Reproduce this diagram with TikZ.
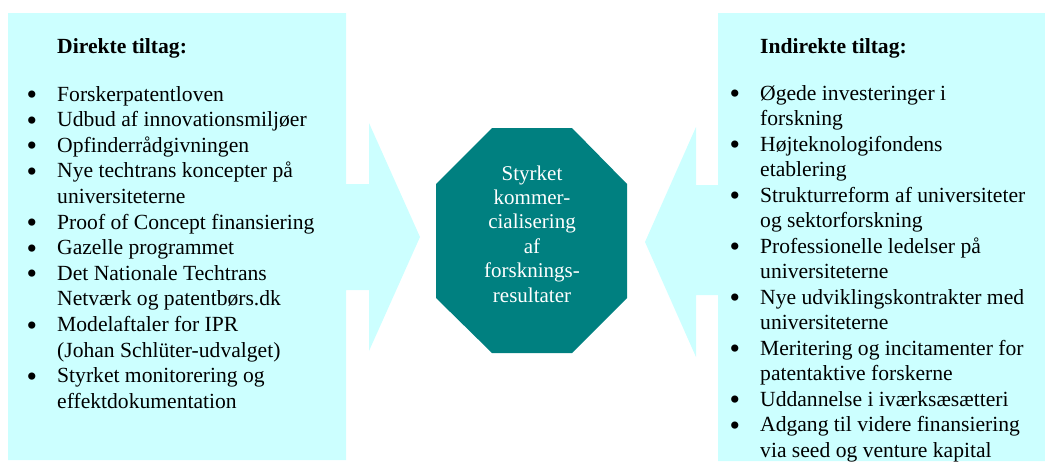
\documentclass[tikz,border=0pt]{standalone}
\usepackage{fontspec}
\setmainfont{Liberation Serif}
\definecolor{lightcyan}{HTML}{CCFFFF}
\definecolor{tealc}{HTML}{008080}
\newcommand{\bigbul}{\hspace{-1.5pt}\smash{\raisebox{-3.6pt}{\fontsize{30}{0}\selectfont\textbullet}}}
\newcommand{\itm}[1]{\hangindent=29pt\hangafter=1\noindent\makebox[29pt][l]{\bigbul}#1\par}
\tikzset{
  panel/.style={fill=lightcyan, draw=none},
  octa/.style={fill=tealc, draw=none},
  listtext/.style={anchor=base west, inner sep=0pt, font=\fontsize{21.6}{25.6}\selectfont},
  headtext/.style={anchor=base west, inner sep=0pt, font=\fontsize{21.6}{25.6}\selectfont\bfseries},
  centertext/.style={anchor=base, inner sep=0pt, text=white, font=\fontsize{21}{24.4}\selectfont}
}
\begin{document}
\begin{tikzpicture}[x=1pt,y=-1pt]
\useasboundingbox (0,0) rectangle (1045,461);
% left arrow panel
\fill[panel] (8,13) -- (346,13) -- (346,184) -- (369,184) -- (369,123) -- (420,237)
  -- (369,351) -- (369,290) -- (346,290) -- (346,460) -- (8,460) -- cycle;
% right arrow panel
\fill[panel] (1045,13) -- (718,13) -- (718,185) -- (696,185) -- (696,127) -- (645,242)
  -- (696,357) -- (696,295) -- (718,295) -- (718,461) -- (1045,461) -- cycle;
% central octagon
\fill[octa] (492,128) -- (572,128) -- (627,184) -- (627,298) -- (572,353) -- (492,353)
  -- (436,298) -- (436,184) -- cycle;
\node[centertext] (center) at (532,180) {\parbox[t]{160pt}{\centering Styrket\\kommer-\\cialisering\\af\\forsknings-\\resultater}};
% left texts
\node[headtext] (lhead) at (57,53) {Direkte tiltag:};
\node[listtext] (llist) at (28,101) {\parbox[t]{330pt}{\raggedright
\itm{Forskerpatentloven}
\itm{Udbud af innovationsmiljøer}
\itm{Opfinderrådgivningen}
\itm{Nye techtrans koncepter på\newline universiteterne}
\itm{Proof of Concept finansiering}
\itm{Gazelle programmet}
\itm{Det Nationale Techtrans\newline Netværk og patentbørs.dk}
\itm{Modelaftaler for IPR\newline (Johan Schlüter-udvalget)}
\itm{Styrket monitorering og\newline effektdokumentation}
}};
% right texts
\node[headtext] (rhead) at (760,53) {Indirekte tiltag:};
\node[listtext] (rlist) at (731,100) {\parbox[t]{330pt}{\raggedright\fontsize{21.6}{25.5}\selectfont
\itm{Øgede investeringer i\newline forskning}
\itm{Højteknologifondens\newline etablering}
\itm{Strukturreform af universiteter\newline og sektorforskning}
\itm{Professionelle ledelser på\newline universiteterne}
\itm{Nye udviklingskontrakter med\newline universiteterne}
\itm{Meritering og incitamenter for\newline patentaktive forskerne}
\itm{Uddannelse i iværksæsætteri}
\itm{Adgang til videre finansiering\newline via seed og venture kapital}
}};
\end{tikzpicture}
\end{document}
